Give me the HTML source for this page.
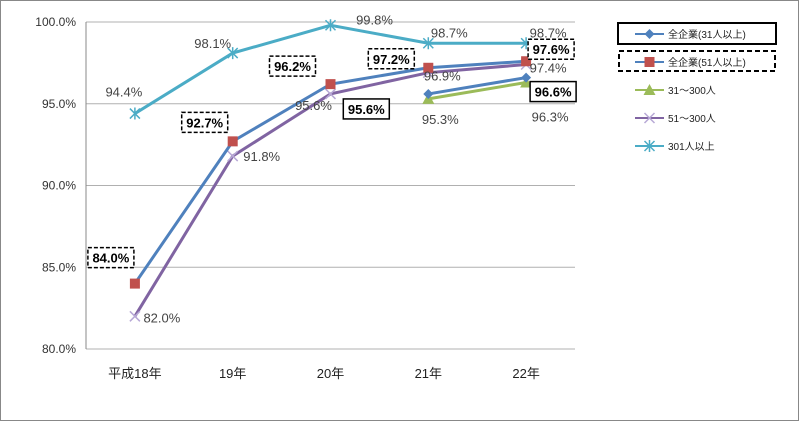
<!DOCTYPE html>
<html><head><meta charset="utf-8"><style>
body{margin:0;background:#fff;}
svg{display:block;font-family:"Liberation Sans","Noto Sans CJK JP",sans-serif;}
</style></head><body>
<svg id="chart" width="800" height="422">
<rect x="0.5" y="0.5" width="798" height="420" fill="#fff" stroke="#888"/>
<g id="grid"></g><g id="axes"></g><g id="series"></g><g id="labels"></g><g id="legend"></g>
</svg>
<script>
const categories=["平成18年","19年","20年","21年","22年"];
const yTicks=[80,85,90,95,100];
const s31=[null,null,null,95.6,96.6];
const s51=[84.0,92.7,96.2,97.2,97.6];
const s31_300=[null,null,null,95.3,96.3];
const s51_300=[82.0,91.8,95.6,96.9,97.4];
const s301=[94.4,98.1,99.8,98.7,98.7];
const seriesNames=["全企業(31人以上)","全企業(51人以上)","31～300人","51～300人","301人以上"];
const NS="http://www.w3.org/2000/svg";
const X0=86,X1=575,Y0=349,Y1=22;
const xs=i=>X0+(X1-X0)/categories.length*(i+0.5);
const ys=v=>Y0-(v-80)/20*(Y0-Y1);
function mk(tag,at,parent,txt){const e=document.createElementNS(NS,tag);for(const k in at)e.setAttribute(k,at[k]);if(txt!=null)e.textContent=txt;parent.appendChild(e);return e;}
const grid=document.getElementById('grid'),axes=document.getElementById('axes'),ser=document.getElementById('series'),lab=document.getElementById('labels'),leg=document.getElementById('legend');
yTicks.forEach(t=>{
 const l=mk('line',{x1:X0,x2:X1,y1:ys(t),y2:ys(t),stroke:'#b0b0b0'},grid);
 
 
 const tx=mk('text',{x:X0-10,y:ys(t)+4,'text-anchor':'end','font-size':12,fill:'#333'},axes,t.toFixed(1)+'%');
 
 
});
mk('line',{x1:X0,x2:X0,y1:Y1,y2:Y0,stroke:'#888'},axes);
categories.forEach((c,i)=>{
 const t=mk('text',{x:xs(i),y:378,'text-anchor':'middle','font-size':13,fill:'#222'},axes,c);
 
 
});
function marker(type,x,y,col,g){
 if(type==='diamond')mk('polygon',{points:`${x},${y-5} ${x+5},${y} ${x},${y+5} ${x-5},${y}`,fill:col},g);
 else if(type==='square')mk('rect',{x:x-5,y:y-5,width:10,height:10,fill:'#C0504D'},g);
 else if(type==='tri')mk('polygon',{points:`${x},${y-6} ${x+6},${y+5} ${x-6},${y+5}`,fill:col},g);
 else if(type==='x'){mk('path',{d:`M${x-5} ${y-5}L${x+5} ${y+5}M${x+5} ${y-5}L${x-5} ${y+5}`,stroke:'#B7A8D6','stroke-width':1.5},g);}
 else if(type==='star'){mk('path',{d:`M${x-5} ${y-5}L${x+5} ${y+5}M${x+5} ${y-5}L${x-5} ${y+5}M${x} ${y-6}L${x} ${y+6}`,stroke:'#4BACC6','stroke-width':1.5},g);}
}
const defs=[
 {d:s301,col:'#4BACC6',m:'star',name:'series-301-plus'},
 {d:s51_300,col:'#8064A2',m:'x',name:'series-51-300'},
 {d:s31_300,col:'#9BBB59',m:'tri',name:'series-31-300'},
 {d:s51,col:'#4F81BD',m:'square',name:'series-all-51-plus'},
 {d:s31,col:'#4F81BD',m:'diamond',name:'series-all-31-plus'}
];
defs.forEach(s=>{
 const g=mk('g',{},ser);
 
 
 let p='';s.d.forEach((v,i)=>{if(v==null)return;p+=(p?'L':'M')+xs(i)+' '+ys(v);});
 mk('path',{d:p,fill:'none',stroke:s.col,'stroke-width':3},g);
 s.d.forEach((v,i)=>{if(v!=null)marker(s.m,xs(i),ys(v),s.col,g);});
});
function plain(x,y,t){const e=mk('text',{x:x,y:y,'text-anchor':'middle','font-size':13,fill:'#444'},lab,t);
 
 }
function boxed(x,y,t,dash){const w=46,h=20;
 mk('rect',{x:x-w/2,y:y-h/2,width:w,height:h,fill:'#fff',stroke:'#000','stroke-width':1.5,'stroke-dasharray':dash?'4 2':'none'},lab);
 const e=mk('text',{x:x,y:y+5,'text-anchor':'middle','font-size':13,'font-weight':'bold',fill:'#000'},lab,t);
 
 }
const f=v=>v.toFixed(1)+'%';
plain(xs(0)-11,ys(s301[0])-17,f(s301[0]));plain(xs(1)-20,ys(s301[1])-5,f(s301[1]));plain(xs(2)+44,ys(s301[2])-1,f(s301[2]));
plain(xs(3)+21,ys(s301[3])-6,f(s301[3]));plain(xs(4)+22,ys(s301[4])-6,f(s301[4]));
plain(xs(0)+27,ys(s51_300[0])+6,f(s51_300[0]));plain(xs(1)+29,ys(s51_300[1])+5,f(s51_300[1]));plain(xs(2)-17,ys(s51_300[2])+16,f(s51_300[2]));
plain(xs(3)+14,ys(s51_300[3])+8,f(s51_300[3]));plain(xs(4)+22,ys(s51_300[4])+8,f(s51_300[4]));
plain(xs(3)+12,ys(s31_300[3])+25,f(s31_300[3]));plain(xs(4)+24,ys(s31_300[4])+39,f(s31_300[4]));
boxed(xs(0)-24,ys(s51[0])-26,f(s51[0]),true);boxed(xs(1)-28,ys(s51[1])-19,f(s51[1]),true);
boxed(xs(2)-38,ys(s51[2])-18,f(s51[2]),true);boxed(xs(3)-37,ys(s51[3])-9,f(s51[3]),true);
boxed(xs(4)+25,ys(s51[4])-12,f(s51[4]),true);
boxed(xs(3)-62,ys(s31[3])+15,f(s31[3]),false);boxed(xs(4)+27,ys(s31[4])+14,f(s31[4]),false);
mk('rect',{x:618,y:23,width:158,height:21,fill:'none',stroke:'#000','stroke-width':2},leg);
mk('rect',{x:619,y:51,width:156,height:20,fill:'none',stroke:'#000','stroke-width':2,'stroke-dasharray':'5 3'},leg);
const legCols=['#4F81BD','#4F81BD','#9BBB59','#8064A2','#4BACC6'];
const legM=['diamond','square','tri','x','star'];
seriesNames.forEach((n,i)=>{
 const y=34+i*28;const g=mk('g',{},leg);
 
 
 mk('line',{x1:635,x2:664,y1:y,y2:y,stroke:legCols[i],'stroke-width':2},g);
 marker(legM[i],649.5,y,legCols[i],g);
 mk('text',{x:668,y:y+4,'font-size':10,fill:'#222'},g,n);
});
</script>
</body></html>
